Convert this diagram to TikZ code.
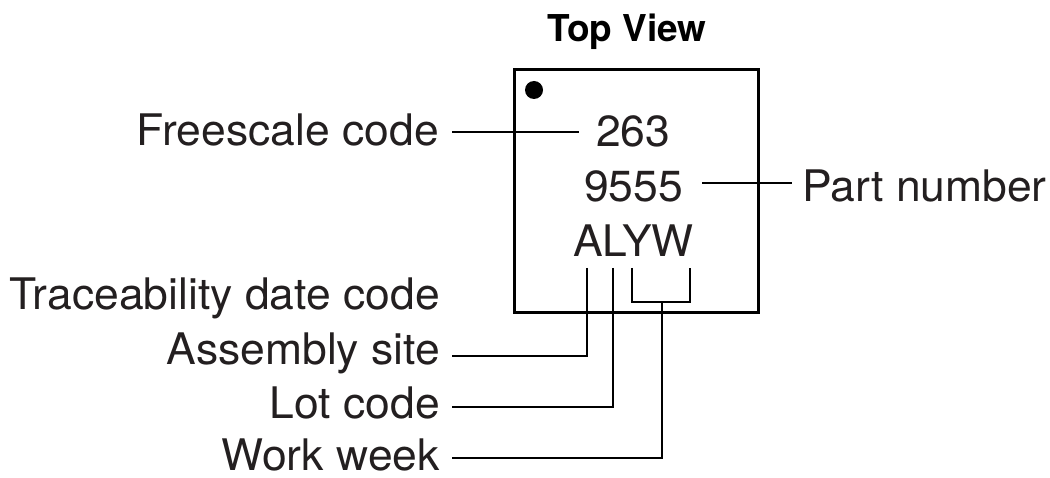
\documentclass[tikz,border=0pt]{standalone}
\usepackage{fontspec}
\setmainfont{TeX Gyre Heros}
\newfontfamily\widefont[FakeStretch=1.022]{TeX Gyre Heros}
\definecolor{txt}{HTML}{231F20}
\begin{document}
\begin{tikzpicture}[x=1pt,y=-1pt,
  lbl/.style={inner sep=0pt,text=txt,font=\widefont\fontsize{43.5}{50}\selectfont},
  ttl/.style={inner sep=0pt,text=black,font=\fontsize{37}{42}\selectfont\bfseries},
  conn/.style={line width=2.6pt,black},
  chip/.style={line width=3pt,black}]
\useasboundingbox (0,0) rectangle (1050,478);
% title
\node[ttl,anchor=base] (title) at (627,42) {Top View};
% package outline
\draw[chip] (514,70) rectangle (758,313);
\fill (534,90) circle[radius=9pt];
% marking text
\node[lbl,anchor=base west] (m263) at (596,147) {263};
\node[lbl,anchor=base west] (m9555) at (584,202) {9555};
\node[lbl,anchor=base west] (malyw) at (573,257) {ALYW};
% labels
\node[lbl,anchor=base east] (fc) at (439,146) {Freescale code};
\node[lbl,anchor=base west] (pn) at (802,202) {Part number};
\node[lbl,anchor=base east] (tdc) at (440,310) {Traceability date code};
\node[lbl,anchor=base east] (as) at (440,365) {Assembly site};
\node[lbl,anchor=base east] (lc) at (440,418) {Lot code};
\node[lbl,anchor=base east] (ww) at (440,470) {Work week};
% connector points
\coordinate (fcL) at (452,132); \coordinate (fcR) at (579,132);
\coordinate (pnL) at (702,183); \coordinate (pnR) at (792,183);
\coordinate (aT) at (587,268); \coordinate (aB) at (587,356); \coordinate (aL) at (452,356);
\coordinate (lT) at (613,268); \coordinate (lB) at (613,407); \coordinate (lL) at (452,407);
\coordinate (yT) at (632,268); \coordinate (yB) at (632,302);
\coordinate (wT) at (690,268); \coordinate (wB) at (690,302);
\coordinate (sT) at (662,302); \coordinate (sB) at (662,458); \coordinate (sL) at (452,458);
% connectors
\draw[conn] (fcL) -- (fcR);
\draw[conn] (pnL) -- (pnR);
\draw[conn] (aT) -- (aB) -- (aL);
\draw[conn] (lT) -- (lB) -- (lL);
\draw[conn] (yT) -- (yB) -- (wB) -- (wT);
\draw[conn] (sT) -- (sB) -- (sL);
\end{tikzpicture}
\end{document}
